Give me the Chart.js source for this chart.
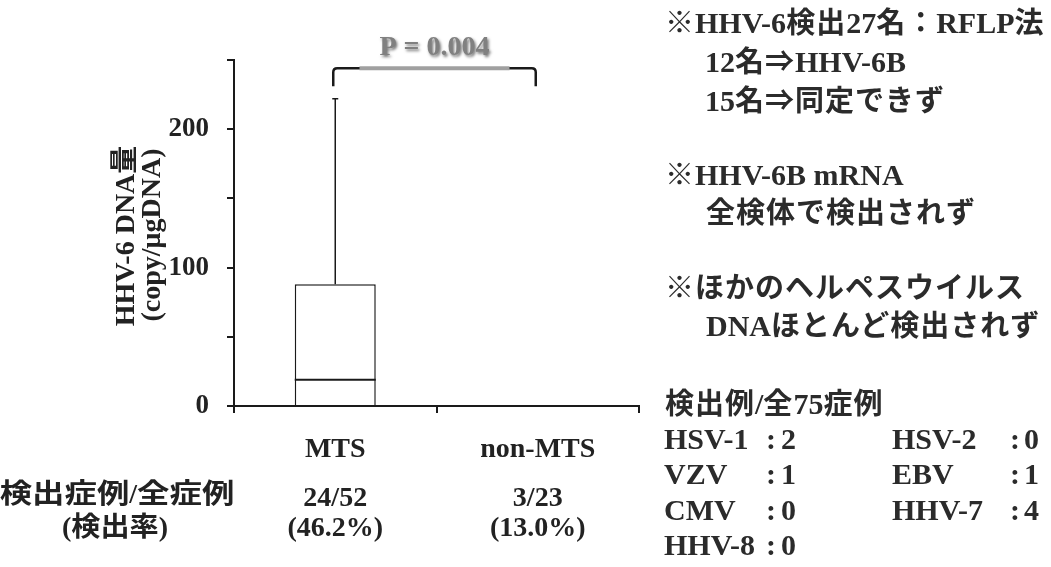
<!DOCTYPE html>
<html lang="ja">
<head>
<meta charset="utf-8">
<script src="https://cdn.jsdelivr.net/npm/chart.js@4/dist/chart.umd.min.js"></script>
<style>
  html, body { margin: 0; padding: 0; background: #fff; }
  #wrap { position: relative; width: 1051px; height: 567px; }
  #c { position: absolute; left: 0; top: 0; }
  .note {
    position: absolute; white-space: pre; color: #2b2b2b;
    font: bold 30px "Liberation Serif", serif;
    height: 36px; line-height: 36px;
  }
  .note .j { font-family: "Noto Sans CJK JP", sans-serif; font-size: 29px; line-height: 36px; letter-spacing: 1px; }
</style>
</head>
<body>
<div id="wrap">
  <canvas id="c" width="1051" height="567"></canvas>
</div>
<script>
// Groups and box-plot summary values (copy/μgDNA)
const groups = ['MTS', 'non-MTS'];
const whiskerLow = [0, 0];
const quartile1 = [0, 0];
const medians = [19, 0];
const quartile3 = [88, 0];
const whiskerHigh = [222, 0];

// Detection counts shown under each group
const detectedRatio = ['24/52', '3/23'];
const detectedRate = ['(46.2%)', '(13.0%)'];

// Y axis labelled ticks
const labelledTicks = [0, 100, 200];

// Significance bracket between the two groups
const pValueText = 'P = 0.004';
const bracketTop = 244;
const bracketFoot = 231;

// Side notes: text, left x, vertical centre
const noteLines = [
  ['※HHV-6検出27名：RFLP法', 665, 20],
  ['12名⇒HHV-6B', 705, 59],
  ['15名⇒同定できず', 705, 98],
  ['※HHV-6B mRNA', 665, 172],
  ['全検体で検出されず', 706, 210],
  ['※ほかのヘルペスウイルス', 665, 285],
  ['DNAほとんど検出されず', 706, 323],
  ['検出例/全75症例', 665, 401]
];
const virusNames = ['HSV-1', 'HSV-2', 'VZV', 'EBV', 'CMV', 'HHV-7', 'HHV-8'];
const virusCounts = [2, 0, 1, 1, 0, 4, 0];

const CJK = /[\u203b\u21d2\u3000-\u30ff\u3400-\u9fff\uff00-\uffef]/;
function splitRuns(text) {
  const runs = [];
  for (const ch of text) {
    const j = CJK.test(ch);
    if (runs.length && runs[runs.length - 1].j === j) runs[runs.length - 1].t += ch;
    else runs.push({ t: ch, j });
  }
  return runs;
}

const wrap = document.getElementById('wrap');
function addNote(text, x, cy) {
  const d = document.createElement('div');
  d.className = 'note';
  splitRuns(text).forEach(r => {
    const s = document.createElement('span');
    if (r.j) s.className = 'j';
    s.textContent = r.t;
    d.appendChild(s);
  });
  d.style.left = x + 'px';
  d.style.top = (cy - 18) + 'px';
  wrap.appendChild(d);
}
noteLines.forEach(([t, x, y]) => addNote(t, x, y));
virusNames.forEach((name, i) => {
  const col = i % 2, row = Math.floor(i / 2);
  const y0 = 439 + row * 35.3;
  addNote(name, col === 0 ? 664 : 892, y0);
  addNote(':', col === 0 ? 766 : 1010, y0);
  addNote(String(virusCounts[i]), col === 0 ? 781 : 1024, y0);
});

const INK = '#1a1a1a';
const SERIF = '"Liberation Serif", serif';
const GOTHIC = '"Noto Sans CJK JP", sans-serif';

// Draws Latin runs in serif and Japanese runs in gothic (optionally widened),
// centred vertically on cy
function drawMixed(ctx, text, x, cy, align, latinPx, cjkPx, cjkStretch = 1) {
  const runs = splitRuns(text).map(r => ({
    ...r, font: r.j ? `bold ${cjkPx}px ${GOTHIC}` : `bold ${latinPx}px ${SERIF}`,
    sx: r.j ? cjkStretch : 1
  }));
  let total = 0;
  runs.forEach(r => { ctx.font = r.font; r.w = ctx.measureText(r.t).width * r.sx; total += r.w; });
  let px = align === 'center' ? x - total / 2 : (align === 'right' ? x - total : x);
  ctx.textAlign = 'left';
  ctx.textBaseline = 'alphabetic';
  const base = cy + latinPx * 0.34;
  runs.forEach(r => {
    ctx.font = r.font;
    ctx.save();
    ctx.translate(px, base);
    ctx.scale(r.sx, 1);
    ctx.fillText(r.t, 0, 0);
    ctx.restore();
    px += r.w;
  });
}

const boxExtras = {
  id: 'boxExtras',
  afterDatasetsDraw(chart) {
    const ctx = chart.ctx;
    const y = chart.scales.y;
    const x = chart.scales.x;
    const meta = chart.getDatasetMeta(0);
    ctx.save();
    ctx.strokeStyle = INK;
    meta.data.forEach((bar, i) => {
      const cx = bar.x;
      const half = bar.width / 2;
      // median
      ctx.lineWidth = 2;
      ctx.beginPath();
      ctx.moveTo(cx - half, y.getPixelForValue(medians[i]));
      ctx.lineTo(cx + half, y.getPixelForValue(medians[i]));
      ctx.stroke();
      // whiskers
      ctx.lineWidth = 1.5;
      if (whiskerHigh[i] > quartile3[i]) {
        const top = y.getPixelForValue(whiskerHigh[i]);
        ctx.beginPath();
        ctx.moveTo(cx, y.getPixelForValue(quartile3[i]));
        ctx.lineTo(cx, top);
        ctx.moveTo(cx - 3, top);
        ctx.lineTo(cx + 3, top);
        ctx.stroke();
      }
      if (whiskerLow[i] < quartile1[i]) {
        const bot = y.getPixelForValue(whiskerLow[i]);
        ctx.beginPath();
        ctx.moveTo(cx, y.getPixelForValue(quartile1[i]));
        ctx.lineTo(cx, bot);
        ctx.moveTo(cx - 3, bot);
        ctx.lineTo(cx + 3, bot);
        ctx.stroke();
      }
    });

    // significance bracket
    const xl = x.getPixelForValue(0) - 2;
    const xr = x.getPixelForValue(1) - 2;
    const yt = y.getPixelForValue(bracketTop);
    const yf = y.getPixelForValue(bracketFoot);
    const r = 4;
    ctx.lineWidth = 2.5;
    ctx.beginPath();
    ctx.moveTo(xl, yf);
    ctx.lineTo(xl, yt + r);
    ctx.quadraticCurveTo(xl, yt, xl + r, yt);
    ctx.lineTo(xr - r, yt);
    ctx.quadraticCurveTo(xr, yt, xr, yt + r);
    ctx.lineTo(xr, yf);
    ctx.stroke();
    const mid = (xl + xr) / 2;
    ctx.strokeStyle = '#a0a0a0';
    ctx.lineWidth = 4;
    ctx.beginPath();
    ctx.moveTo(mid - 75, yt);
    ctx.lineTo(mid + 75, yt);
    ctx.stroke();

    ctx.font = 'bold 28px ' + SERIF;
    ctx.textAlign = 'center';
    ctx.textBaseline = 'middle';
    ctx.shadowColor = 'rgba(0,0,0,0.55)';
    ctx.shadowBlur = 3;
    ctx.shadowOffsetX = 1.5;
    ctx.shadowOffsetY = 1.5;
    ctx.fillStyle = '#808080';
    ctx.fillText(pValueText, mid, 48);
    ctx.restore();

    // counts under each group
    ctx.save();
    ctx.fillStyle = '#222';
    groups.forEach((g, i) => {
      const px = x.getPixelForValue(i);
      drawMixed(ctx, detectedRatio[i], px, 496, 'center', 28, 28);
      drawMixed(ctx, detectedRate[i], px, 526, 'center', 28, 28);
    });
    drawMixed(ctx, '検出症例/全症例', 117, 493, 'center', 28, 27, 1.2);
    drawMixed(ctx, '(検出率)', 115, 526, 'center', 28, 27, 1.08);

    // y axis title
    ctx.save();
    ctx.translate(124, 236);
    ctx.rotate(-Math.PI / 2);
    drawMixed(ctx, 'HHV-6 DNA量', 0, 0, 'center', 28, 28);
    ctx.restore();
    ctx.save();
    ctx.translate(150, 235);
    ctx.rotate(-Math.PI / 2);
    drawMixed(ctx, '(copy/μgDNA)', 0, 0, 'center', 28, 28);
    ctx.restore();
    ctx.restore();
  }
};

new Chart(document.getElementById('c'), {
  type: 'bar',
  data: {
    labels: groups,
    datasets: [{
      data: groups.map((g, i) => [quartile1[i], quartile3[i]]),
      backgroundColor: '#ffffff',
      borderColor: INK,
      borderWidth: 1.5,
      borderSkipped: 'start',
      barPercentage: 0.4,
      categoryPercentage: 1
    }]
  },
  options: {
    responsive: false,
    animation: false,
    events: [],
    layout: { padding: { top: 60, right: 412, bottom: 0, left: 0 } },
    plugins: { legend: { display: false }, tooltip: { enabled: false } },
    scales: {
      x: {
        afterFit(s) { s.height = 161; },
        border: { color: INK, width: 2 },
        grid: { drawOnChartArea: false, drawTicks: true, tickLength: 7, color: INK, lineWidth: 2, offset: true },
        ticks: { color: '#222', font: { family: SERIF, size: 28, weight: 'bold' }, padding: 20 }
      },
      y: {
        min: 0, max: 250,
        afterFit(s) { s.width = 234; },
        border: { color: INK, width: 2 },
        grid: { drawOnChartArea: false, drawTicks: true, tickLength: 7, color: INK, lineWidth: 2 },
        ticks: {
          stepSize: 50,
          color: '#222',
          padding: 18,
          font: { family: SERIF, size: 27, weight: 'bold' },
          callback: v => labelledTicks.includes(v) ? String(v) : ''
        }
      }
    }
  },
  plugins: [boxExtras]
});
</script>
</body>
</html>
